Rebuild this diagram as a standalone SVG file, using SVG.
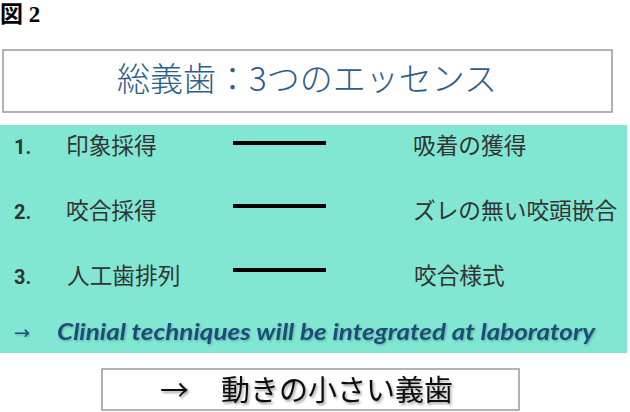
<svg xmlns="http://www.w3.org/2000/svg" width="630" height="412" viewBox="0 0 630 412">
<style>
.jp{font-family:"Noto Sans CJK JP","Noto Sans",sans-serif;}
.row{font-size:22.7px;fill:#333333;}
.num{font-family:Roboto,"Liberation Sans",sans-serif;font-size:20px;font-weight:bold;fill:#333333;}
.bar{stroke:#000;stroke-width:4;}
.box{fill:#fff;stroke:#999;stroke-width:1.5;}
</style>
<defs>
<filter id="sh" x="-10%" y="-30%" width="120%" height="160%">
<feDropShadow dx="1.5" dy="2" stdDeviation="1.2" flood-color="#000" flood-opacity="0.35"/>
</filter>
<filter id="sh2" x="-5%" y="-30%" width="110%" height="160%">
<feDropShadow dx="1" dy="1.2" stdDeviation="0.8" flood-color="#000" flood-opacity="0.25"/>
</filter>
</defs>
<rect width="630" height="412" fill="#fff"/>
<text x="0" y="22" font-family="'Liberation Serif','Noto Sans CJK JP',serif" font-size="23" font-weight="bold" fill="#000">図 2</text>
<g id="title">
<rect class="box" x="3" y="50" width="609" height="62"/>
<text class="jp" x="307" y="91" font-size="33" font-weight="300" fill="#2b5c8a" text-anchor="middle">総義歯：3つのエッセンス</text>
</g>
<g id="panel">
<rect x="0" y="125" width="627" height="228" fill="#81e7d2"/>
</g>
<g id="row1">
<text class="num" x="14" y="154">1.</text>
<text class="jp row" x="66" y="154">印象採得</text>
<text class="jp row" x="413" y="154">吸着の獲得</text>
</g>
<g id="row2">
<text class="num" x="14" y="219">2.</text>
<text class="jp row" x="66" y="219">咬合採得</text>
<text class="jp row" x="413" y="219">ズレの無い咬頭嵌合</text>
</g>
<g id="row3">
<text class="num" x="14" y="284">3.</text>
<text class="jp row" x="67" y="284">人工歯排列</text>
<text class="jp row" x="414" y="284">咬合様式</text>
</g>
<g id="connectors">
<line class="bar" x1="233" y1="143" x2="326" y2="143"/>
<line class="bar" x1="233" y1="206" x2="326" y2="206"/>
<line class="bar" x1="233" y1="270" x2="326" y2="270"/>
</g>
<g id="note" filter="url(#sh2)">
<text x="14" y="339" font-family="'DejaVu Sans',sans-serif" font-size="19" fill="#1f4e79">→</text>
<text x="57" y="340" font-family="Lato,'Open Sans',sans-serif" font-size="22" font-weight="bold" font-style="italic" fill="#1f4e79" textLength="538" lengthAdjust="spacingAndGlyphs">Clinial techniques will be integrated at laboratory</text>
</g>
<g id="result">
<rect class="box" x="102" y="369" width="417" height="41"/>
<text class="jp" y="401" font-size="29" fill="#111" filter="url(#sh)"><tspan x="160">→</tspan><tspan x="221">動きの小さい義歯</tspan></text>
</g>
</svg>
